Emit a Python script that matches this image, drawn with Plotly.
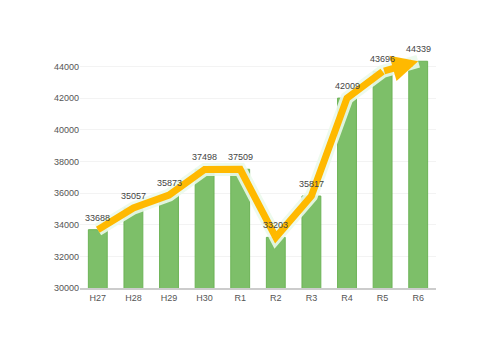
import plotly.graph_objects as go

categories = ["H27", "H28", "H29", "H30", "R1", "R2", "R3", "R4", "R5", "R6"]
values = [33688, 35057, 35873, 37498, 37509, 33203, 35817, 42009, 43696, 44339]
y_ticks = [30000, 32000, 34000, 36000, 38000, 40000, 42000, 44000]
y_tick_text = [str(v) for v in y_ticks]

FONT = "Liberation Sans, Arial, sans-serif"
ORANGE = "#ffb900"

fig = go.Figure()
fig.add_trace(go.Bar(
    x=categories, y=values,
    marker=dict(color="#7dbf69", line=dict(color="#6cb356", width=1)),
))
# glow under the trend line
fig.add_trace(go.Scatter(
    x=categories, y=values, mode="lines",
    line=dict(color="rgba(235,250,235,0.9)", width=13),
    hoverinfo="skip",
))
fig.add_trace(go.Scatter(
    x=categories[:-1], y=values[:-1], mode="lines",
    line=dict(color=ORANGE, width=7),
    hoverinfo="skip",
))
# arrow for the final segment
fig.add_annotation(x=categories[-1], y=values[-1],
                   ax=categories[-2], ay=values[-2],
                   xref="x", yref="y", axref="x", ayref="y",
                   showarrow=True, arrowhead=2, arrowsize=0.75,
                   arrowwidth=7, arrowcolor=ORANGE, standoff=0, text="")

for c, v in zip(categories, values):
    fig.add_annotation(x=c, y=v, text=str(v), showarrow=False,
                       yanchor="bottom", yshift=5,
                       font=dict(family=FONT, size=9, color="#444"))

fig.update_layout(
    width=480, height=360,
    margin=dict(l=72, r=52, t=27, b=80),
    paper_bgcolor="white", plot_bgcolor="white",
    showlegend=False, bargap=0.47,
    font=dict(family=FONT, size=9, color="#555"),
)
fig.update_xaxes(range=[-0.5, len(categories) - 0.5],
                 showline=True, linecolor="#cccccc", linewidth=2, ticks="",
                 tickfont=dict(size=9, color="#555"))
fig.update_yaxes(range=[30000, 46000], tickvals=y_ticks, ticktext=y_tick_text,
                 showgrid=True, gridcolor="#f3f3f3", zeroline=False, ticks="",
                 tickfont=dict(size=9, color="#555"))

fig.write_html("out.html")
